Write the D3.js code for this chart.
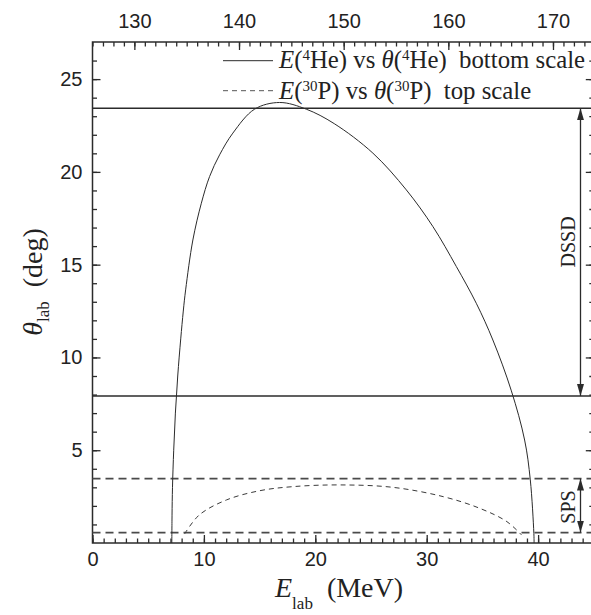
<!DOCTYPE html>
<html>
<head>
<meta charset="utf-8">
<script src="https://cdn.jsdelivr.net/npm/d3@7"></script>
<style>
  html, body { margin: 0; padding: 0; background: #fff; }
  svg { display: block; }
  text { white-space: pre; }
</style>
</head>
<body>
<svg id="chart" width="591" height="615"></svg>
<script>
// 4He kinematic locus: lab energy (MeV, bottom scale) and lab angle (deg)
const heEnergy = [7.12, 7.14, 7.18, 7.29, 7.44, 7.65, 7.92, 8.15, 8.36, 9.01, 9.77, 10.51, 11.41, 12.60,
                  14.55, 16.80, 19.19, 21.70, 25.17, 28.17, 30.56, 32.66, 34.45, 35.94, 37.60,
                  38.79, 39.30, 39.62, 39.64];
const heAngle  = [0.00, 1.50, 3.00, 5.00, 7.00, 9.00, 11.00, 12.50, 13.64, 16.33, 18.31, 19.75, 20.92, 22.09,
                  23.38, 23.74, 23.38, 22.60, 21.01, 19.03, 17.05, 14.90, 12.92, 10.94, 8.20,
                  5.55, 3.40, 0.52, 0.00];

// 30P recoil locus: lab energy (top scale) and lab angle (deg)
const pEnergy = [134.8, 136.2, 138.8, 142.0, 145.2, 149.6, 154.7, 159.5, 163.0, 165.6, 167.0];
const pAngle  = [0.49, 1.51, 2.32, 2.82, 3.04, 3.13, 3.00, 2.50, 1.87, 1.15, 0.43];

// Angular acceptance of the detectors (deg)
const dssdLimits = [7.92, 23.43];
const spsLimits  = [0.56, 3.47];

// Axis ticks
const bottomTicks = [0, 10, 20, 30, 40];
const topTicks    = [130, 140, 150, 160, 170];
const yTicks      = [5, 10, 15, 20, 25];

const svg = d3.select("#chart");
const ink = "#2b2b2b";
const plotLeft = 92.5, plotRight = 593.8, plotTop = 42, plotBottom = 543;

const x    = d3.scaleLinear().domain([0, 45]).range([plotLeft, plotRight]);
const xTop = d3.scaleLinear().domain([126, 173.9]).range([plotLeft, plotRight]);
const y    = d3.scaleLinear().domain([0, 27]).range([plotBottom, plotTop]);

const sansFont = "'Liberation Sans', Arial, sans-serif";
const serifFont = "'Liberation Serif', 'Times New Roman', serif";
const tickFont = 20;

// Frame
svg.append("rect")
  .attr("x", plotLeft).attr("y", plotTop)
  .attr("width", plotRight - plotLeft).attr("height", plotBottom - plotTop)
  .attr("fill", "none").attr("stroke", ink).attr("stroke-width", 1.5);

function styleAxis(g) {
  g.select(".domain").remove();
  g.selectAll("line").attr("stroke", ink).attr("stroke-width", 1.3);
  g.selectAll("text").attr("fill", "#222")
    .style("font-family", sansFont).style("font-size", tickFont + "px");
}

// Bottom axis (inward ticks)
svg.append("g").attr("transform", `translate(0,${plotBottom})`)
  .call(d3.axisBottom(x).tickValues(d3.range(0, 46, 1)).tickSize(-4.5).tickFormat(""))
  .call(styleAxis);
svg.append("g").attr("transform", `translate(0,${plotBottom})`)
  .call(d3.axisBottom(x).tickValues(bottomTicks).tickSize(-8).tickPadding(9).tickFormat(d3.format("d")))
  .call(styleAxis);

// Top axis
svg.append("g").attr("transform", `translate(0,${plotTop})`)
  .call(d3.axisTop(xTop).tickValues(d3.range(126, 174, 1)).tickSize(-4.5).tickFormat(""))
  .call(styleAxis);
svg.append("g").attr("transform", `translate(0,${plotTop})`)
  .call(d3.axisTop(xTop).tickValues(topTicks).tickSize(-8).tickPadding(14).tickFormat(d3.format("d")))
  .call(styleAxis);

// Left axis
svg.append("g").attr("transform", `translate(${plotLeft},0)`)
  .call(d3.axisLeft(y).tickValues(d3.range(1, 27, 1)).tickSize(-4.5).tickFormat(""))
  .call(styleAxis);
svg.append("g").attr("transform", `translate(${plotLeft},0)`)
  .call(d3.axisLeft(y).tickValues(yTicks).tickSize(-8).tickPadding(10).tickFormat(d3.format("d")))
  .call(styleAxis);

// Right axis (ticks only)
svg.append("g").attr("transform", `translate(${plotRight},0)`)
  .call(d3.axisRight(y).tickValues(d3.range(1, 27, 1)).tickSize(-4.5).tickFormat(""))
  .call(styleAxis);
svg.append("g").attr("transform", `translate(${plotRight},0)`)
  .call(d3.axisRight(y).tickValues(yTicks).tickSize(-8).tickFormat(""))
  .call(styleAxis);

// Detector acceptance lines
svg.append("g").selectAll("line").data(dssdLimits).join("line")
  .attr("x1", plotLeft).attr("x2", plotRight)
  .attr("y1", d => y(d)).attr("y2", d => y(d))
  .attr("stroke", ink).attr("stroke-width", 1.5);
svg.append("g").selectAll("line").data(spsLimits).join("line")
  .attr("x1", plotLeft).attr("x2", plotRight)
  .attr("y1", d => y(d)).attr("y2", d => y(d))
  .attr("stroke", "#4a4a4a").attr("stroke-width", 1.6)
  .attr("stroke-dasharray", "8,5");

// Kinematic curves
const heLine = d3.line().x(d => x(d[0])).y(d => y(d[1])).curve(d3.curveCatmullRom.alpha(0.5));
svg.append("path")
  .datum(d3.zip(heEnergy, heAngle))
  .attr("d", heLine)
  .attr("fill", "none").attr("stroke", ink).attr("stroke-width", 1);

const pLine = d3.line().x(d => xTop(d[0])).y(d => y(d[1])).curve(d3.curveCatmullRom.alpha(0.5));
svg.append("path")
  .datum(d3.zip(pEnergy, pAngle))
  .attr("d", pLine)
  .attr("fill", "none").attr("stroke", "#3a3a3a").attr("stroke-width", 1)
  .attr("stroke-dasharray", "5,4");

// Double-headed arrows marking the acceptance ranges
const defs = svg.append("defs");
defs.append("marker")
  .attr("id", "head")
  .attr("viewBox", "0 0 12 7")
  .attr("refX", 12).attr("refY", 3.5)
  .attr("markerWidth", 12).attr("markerHeight", 7)
  .attr("markerUnits", "userSpaceOnUse")
  .attr("orient", "auto-start-reverse")
  .append("path").attr("d", "M0,0 L12,3.5 L0,7 Z").attr("fill", ink);

const arrowX = 580.5;
[dssdLimits, spsLimits].forEach(lim => {
  svg.append("line")
    .attr("x1", arrowX).attr("x2", arrowX)
    .attr("y1", y(lim[0])).attr("y2", y(lim[1]))
    .attr("stroke", ink).attr("stroke-width", 1.3)
    .attr("marker-start", "url(#head)").attr("marker-end", "url(#head)");
});

svg.append("text")
  .attr("transform", `translate(575,242) rotate(-90)`)
  .attr("text-anchor", "middle")
  .style("font-family", serifFont).style("font-size", "20px").attr("fill", "#222")
  .text("DSSD");
svg.append("text")
  .attr("transform", `translate(575,507) rotate(-90)`)
  .attr("text-anchor", "middle")
  .style("font-family", serifFont).style("font-size", "20px").attr("fill", "#222")
  .text("SPS");

// Legend
const legend = svg.append("g");
legend.append("line").attr("x1", 223).attr("x2", 273).attr("y1", 60.7).attr("y2", 60.7)
  .attr("stroke", ink).attr("stroke-width", 1);
legend.append("line").attr("x1", 223).attr("x2", 273).attr("y1", 90.7).attr("y2", 90.7)
  .attr("stroke", "#555").attr("stroke-width", 1).attr("stroke-dasharray", "5,4");

function legendText(yPos, sup, nucleus, tail) {
  const t = legend.append("text").attr("x", 279).attr("y", yPos)
    .style("font-family", serifFont).style("font-size", "24.8px").attr("fill", "#222");
  t.append("tspan").style("font-style", "italic").text("E");
  t.append("tspan").text("(");
  t.append("tspan").attr("dy", -8).style("font-size", "15px").text(sup);
  t.append("tspan").attr("dy", 8).text(nucleus + ") vs ");
  t.append("tspan").style("font-style", "italic").text("θ");
  t.append("tspan").text("(");
  t.append("tspan").attr("dy", -8).style("font-size", "15px").text(sup);
  t.append("tspan").attr("dy", 8).text(nucleus + ")  " + tail);
}
legendText(68, "4", "He", "bottom scale");
legendText(98.5, "30", "P", "top scale");

// Axis titles
const xt = svg.append("text").attr("x", 275).attr("y", 597)
  .style("font-family", serifFont).style("font-size", "28px").attr("fill", "#222");
xt.append("tspan").style("font-style", "italic").text("E");
xt.append("tspan").attr("dy", 12).style("font-size", "17px").text("lab");
xt.append("tspan").attr("dy", -12).text("  (MeV)");

const yt = svg.append("text")
  .attr("transform", "translate(42,282) rotate(-90)")
  .attr("text-anchor", "middle")
  .style("font-family", serifFont).style("font-size", "28px").attr("fill", "#222");
yt.append("tspan").style("font-style", "italic").text("θ");
yt.append("tspan").attr("dy", 7).style("font-size", "17px").text("lab");
yt.append("tspan").attr("dy", -7).text("  (deg)");
</script>
</body>
</html>
